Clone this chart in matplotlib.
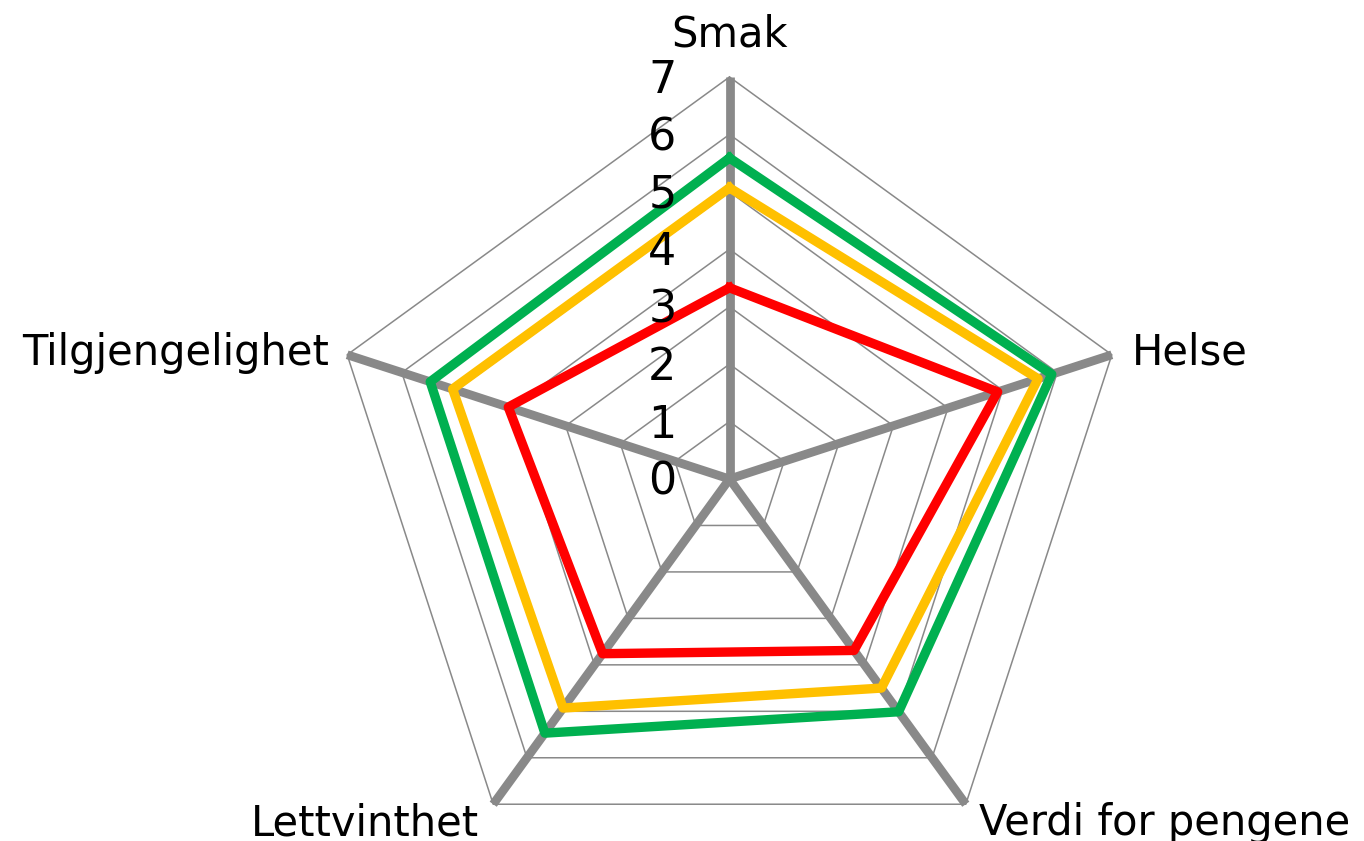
import numpy as np
import matplotlib.pyplot as plt

# Radar chart data (scale 0-7)
categories = ["Smak", "Helse", "Verdi for pengene", "Lettvinthet", "Tilgjengelighet"]
green_vals = [5.59, 5.90, 5.01, 5.47, 5.48]
yellow_vals = [5.07, 5.65, 4.50, 4.93, 5.07]
red_vals = [3.33, 4.91, 3.69, 3.76, 4.05]
tick_levels = [0, 1, 2, 3, 4, 5, 6, 7]

GRID_COLOR = '#898989'
R_MAX = 7

# angles: first axis at top, going clockwise
n = len(categories)
angles = np.pi / 2 - np.arange(n) * 2 * np.pi / n


def to_xy(values):
    v = np.asarray(values, dtype=float)
    x = v * np.cos(angles)
    y = v * np.sin(angles)
    # close the polygon
    return np.append(x, x[0]), np.append(y, y[0])


fig = plt.figure(figsize=(13.64, 8.41), dpi=100)
ax = fig.add_axes([0, 0, 1, 1])
ax.set_axis_off()

# pixel scale: 402 px for 7 units, centre at (729.5, 479) from top-left
px = 402 / R_MAX
ax.set_xlim(-729.5 / px, (1364 - 729.5) / px)
ax.set_ylim(-(841 - 479) / px, 479 / px)

# polygon gridlines
for lvl in tick_levels[1:]:
    gx, gy = to_xy([lvl] * n)
    ax.plot(gx, gy, color=GRID_COLOR, linewidth=1.1, zorder=1)

# spokes
for a in angles:
    ax.plot([0, R_MAX * np.cos(a)], [0, R_MAX * np.sin(a)], color=GRID_COLOR,
            linewidth=6.3, solid_capstyle='butt', zorder=2)

# series
for vals, col in [(red_vals, '#FF0000'), (yellow_vals, '#FFC000'), (green_vals, '#00B050')]:
    sx, sy = to_xy(vals)
    ax.plot(sx, sy, color=col, linewidth=6.75, solid_joinstyle='round', zorder=3)

# radial tick labels along the top axis
for lvl in tick_levels:
    ax.annotate(str(lvl), xy=(0, lvl), xytext=(-53, -16), textcoords='offset pixels',
                ha='right', va='baseline', fontsize=32, color='black')

# category labels
label_offsets = [(0, 30, 'center'), (20, -10, 'left'), (13, -31, 'left'),
                 (-14, -31, 'right'), (-18, -10, 'right')]
for cat, a, (dx, dy, ha) in zip(categories, angles, label_offsets):
    ax.annotate(cat, xy=(R_MAX * np.cos(a), R_MAX * np.sin(a)), xytext=(dx, dy),
                textcoords='offset pixels', ha=ha, va='baseline', fontsize=30, color='black')

fig.savefig('out.png', dpi=100)
